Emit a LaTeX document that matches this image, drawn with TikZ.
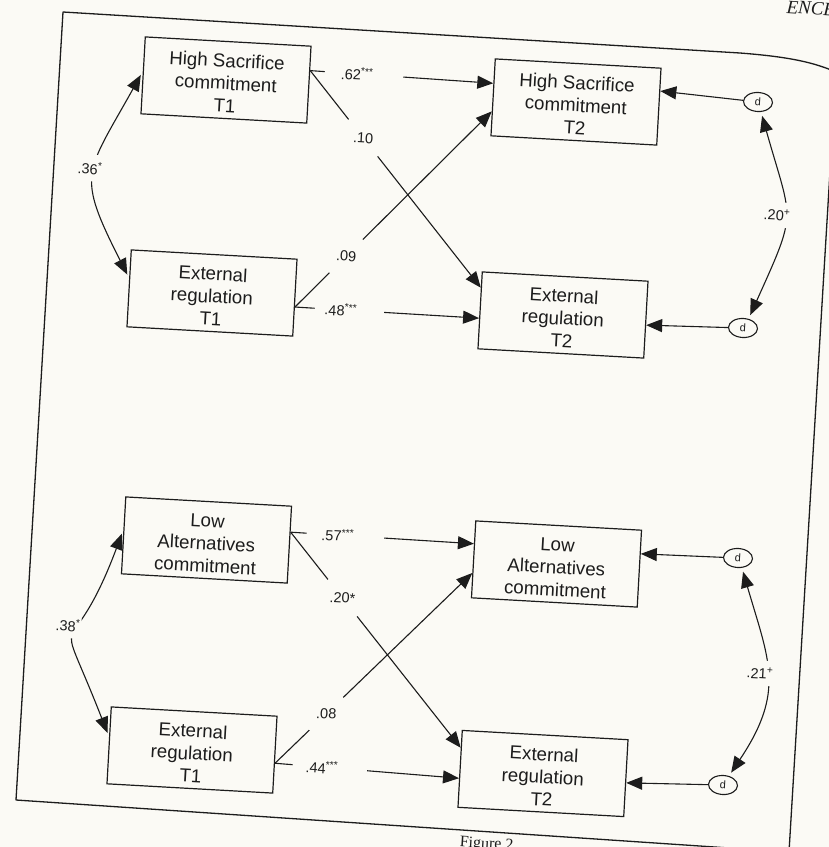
\documentclass[tikz,border=0pt]{standalone}
\usepackage{fontspec}
\setmainfont{Liberation Sans}
\newfontfamily\headserif{Liberation Serif}
\usetikzlibrary{arrows.meta,calc,shapes.geometric}
\definecolor{paper}{RGB}{251,250,245}
\definecolor{ink}{RGB}{28,28,28}
\begin{document}
\begin{tikzpicture}[x=1pt,y=-1pt,
  box/.style={draw=ink, line width=1.2pt, rotate=-3.2, minimum width=166pt, minimum height=77pt, inner sep=0pt, align=center, text=ink, text height=64.6pt, text depth=0pt, font=\fontsize{18.7}{22.5}\selectfont},
  dnode/.style={ellipse, draw=ink, line width=1.1pt, rotate=-3.2, minimum width=29pt, minimum height=19pt, inner sep=0pt, text=ink, font=\fontsize{11}{11}\selectfont},
  arr/.style={draw=ink, line width=1.1pt, -{Triangle[length=16pt,width=13pt]}},
  dbl/.style={draw=ink, line width=1.1pt, {Triangle[length=16pt,width=13pt]}-{Triangle[length=16pt,width=13pt]}, shorten <=4pt, shorten >=4pt},
  hlab/.style={fill=paper, rotate=-3.2, inner xsep=0pt, inner ysep=3pt, text=ink, font=\fontsize{14.5}{15}\selectfont},
  clab/.style={circle, fill=paper, minimum size=47pt, inner sep=0pt, rotate=-3.2, text=ink, font=\fontsize{14.5}{15}\selectfont},
  vlab/.style={fill=paper, rotate=-3.2, inner xsep=1pt, inner ysep=7pt, text=ink, font=\fontsize{14.5}{15}\selectfont},
  frame/.style={draw=ink, line width=1.3pt, line join=round},
]
\useasboundingbox (0,0) rectangle (829,847);
\fill[paper] (0,0) rectangle (829,847);
\begin{scope}
\clip (0,0) rectangle (829,847);
\draw[frame] (63,12) -- (740,53) .. controls (792,57) and (815,63) .. (836,72) -- (789,852) -- (16,800) -- cycle;
\node[rotate=-3.5, anchor=base east, inner sep=0pt, text=ink, font=\headserif\itshape\fontsize{19}{19}\selectfont] (runhead) at (835,16) {ENCE};
\node[rotate=-3.5, anchor=north west, inner sep=0pt, text=ink, font=\headserif\fontsize{16}{16}\selectfont] (figcap) at (460,836) {Figure 2};
\end{scope}

% boxes
\node[box] (hs1) at (226,80) {High Sacrifice\\commitment\\T1};
\node[box] (hs2) at (576,102) {High Sacrifice\\commitment\\T2};
\node[box] (er1) at (212,293) {External\\regulation\\T1};
\node[box] (er2) at (563,315) {External\\regulation\\T2};
\node[box] (la1) at (206.5,540) {Low\\Alternatives\\commitment};
\node[box] (er3) at (192,750) {External\\regulation\\T1};
\node[box] (la2) at (556.5,564) {Low\\Alternatives\\commitment};
\node[box] (er4) at (543,773.5) {External\\regulation\\T2};
% disturbances
\node[dnode] (d1) at (758,102) {d};
\node[dnode] (d2) at (743,328) {d};
\node[dnode] (d3) at (738,558) {d};
\node[dnode] (d4) at (723,785) {d};

% attachment points
\coordinate (hs1r) at ($(hs1.north east)!0.32!(hs1.south east)$);
\coordinate (hs1l) at ($(hs1.north west)!0.45!(hs1.south west)$);
\coordinate (hs2a) at ($(hs2.north west)!0.32!(hs2.south west)$);
\coordinate (hs2b) at ($(hs2.north west)!0.68!(hs2.south west)$);
\coordinate (hs2r) at ($(hs2.north east)!0.30!(hs2.south east)$);
\coordinate (er1r) at ($(er1.north east)!0.62!(er1.south east)$);
\coordinate (er1l) at ($(er1.north west)!0.37!(er1.south west)$);
\coordinate (er2a) at ($(er2.north west)!0.21!(er2.south west)$);
\coordinate (er2b) at ($(er2.north west)!0.60!(er2.south west)$);
\coordinate (er2r) at ($(er2.north east)!0.57!(er2.south east)$);
\coordinate (la1r) at ($(la1.north east)!0.34!(la1.south east)$);
\coordinate (la1l) at ($(la1.north west)!0.43!(la1.south west)$);
\coordinate (la2a) at ($(la2.north west)!0.30!(la2.south west)$);
\coordinate (la2b) at ($(la2.north west)!0.675!(la2.south west)$);
\coordinate (la2r) at ($(la2.north east)!0.31!(la2.south east)$);
\coordinate (er3r) at ($(er3.north east)!0.61!(er3.south east)$);
\coordinate (er3l) at ($(er3.north west)!0.39!(er3.south west)$);
\coordinate (er4a) at ($(er4.north west)!0.23!(er4.south west)$);
\coordinate (er4b) at ($(er4.north west)!0.62!(er4.south west)$);
\coordinate (er4r) at ($(er4.north east)!0.56!(er4.south east)$);

% top model
\draw[arr] (hs1r) -- node[hlab, pos=0.294] (l62) {\hspace*{16pt}.62\textsuperscript{***}\hspace*{30pt}} (hs2a);
\draw[arr] (hs1r) -- node[clab, pos=0.31] (l10) {.10} (er2a);
\draw[arr] (er1r) -- node[clab, pos=0.26] (l09) {.09} (hs2b);
\draw[arr] (er1r) -- node[hlab, pos=0.295] (l48) {\hspace*{10pt}.48\textsuperscript{***}\hspace*{27pt}} (er2b);
\draw[arr] (d1) -- (hs2r);
\draw[arr] (d2) -- (er2r);
\draw[dbl] (hs1l) .. controls (85,175) and (76,173) .. (er1l);
\node[vlab] (l36) at (90,168) {.36\textsuperscript{*}};
\draw[dbl] (d1.-70) .. controls (792.5,223.5) and (798,209) .. (d2.62);
\node[vlab] (l20) at (777,215) {.20\textsuperscript{+}};

% bottom model
\draw[arr] (la1r) -- node[hlab, pos=0.298] (l57) {\hspace*{15pt}.57\textsuperscript{***}\hspace*{30pt}} (la2a);
\draw[arr] (la1r) -- node[clab, pos=0.305] (l20s) {.20*} (er4a);
\draw[arr] (er3r) -- node[clab, pos=0.26] (l08) {.08} (la2b);
\draw[arr] (er3r) -- node[hlab, pos=0.298] (l44) {\hspace*{13pt}.44\textsuperscript{***}\hspace*{29pt}} (er4b);
\draw[arr] (d3) -- (la2r);
\draw[arr] (d4) -- (er4r);
\draw[dbl] (la1l) .. controls (68,678) and (52,591) .. (er3l);
\node[vlab] (l38) at (68,625) {.38\textsuperscript{*}};
\draw[dbl] (d3.-65) .. controls (769,661) and (785.6,691) .. (d4.60);
\node[vlab] (l21) at (760,673) {.21\textsuperscript{+}};
\end{tikzpicture}
\end{document}
